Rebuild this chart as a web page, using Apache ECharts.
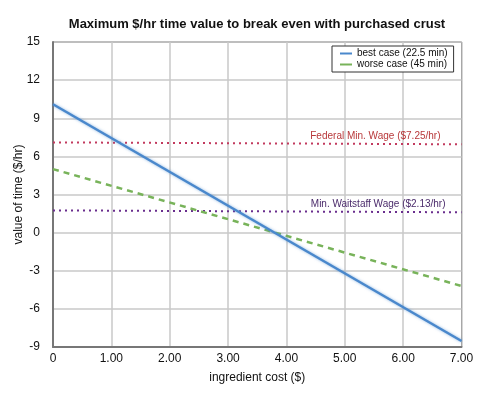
<!DOCTYPE html>
<html><head><meta charset="utf-8">
<script src="https://cdn.jsdelivr.net/npm/echarts@6/dist/echarts.min.js"></script>
<style>html,body{margin:0;padding:0;background:#fff}#c{width:500px;height:408px}</style>
</head><body><div id="c"></div>
<script>
const costs = [0, 7];
const bestCase = [10.1, -8.53];
const worseCase = [5.0, -4.2];
const fedWage = [7.1, 6.95];
const waitWage = [1.75, 1.6];
const xTickLabels = ['0', '1.00', '2.00', '3.00', '4.00', '5.00', '6.00', '7.00'];
const seriesNames = ['best case (22.5 min)', 'worse case (45 min)'];
const refNames = ['Federal Min. Wage ($7.25/hr)', 'Min. Waitstaff Wage ($2.13/hr)'];

const pairs = arr => costs.map((c, i) => [c, arr[i]]);
const FONT = 'Liberation Sans, Arial, Helvetica, sans-serif';
const chart = echarts.init(document.getElementById('c'));
function endLabel(name, color, dx) {
  return {
    show: true, position: 'top', align: 'right', distance: 3, offset: [dx, 0],
    color: color, fontSize: 10, fontFamily: FONT, opacity: 1,
    formatter: p => p.dataIndex === costs.length - 1 ? name : ''
  };
}
chart.setOption({
  animation: false,
  textStyle: { fontFamily: FONT },
  title: {
    text: 'Maximum $/hr time value to break even with purchased crust',
    left: 252, top: 13, textAlign: 'center',
    textStyle: { fontSize: 13, fontWeight: 'bold', color: '#111', fontFamily: FONT }
  },
  legend: {
    data: seriesNames, orient: 'vertical', left: 332, top: 46,
    backgroundColor: '#fff', borderColor: '#333', borderWidth: 1,
    padding: [2, 6, 2, 8], itemGap: 0, itemWidth: 12, itemHeight: 2, icon: 'rect',
    textStyle: { fontSize: 10, color: '#111', lineHeight: 11, fontFamily: FONT }
  },
  grid: { left: 53, right: 38.5, top: 42, bottom: 61, show: true, borderColor: '#444', borderWidth: 1, outerBoundsMode: 'none', containLabel: false },
  xAxis: {
    type: 'value', min: 0, max: 7, interval: 1,
    name: 'ingredient cost ($)', nameLocation: 'middle', nameGap: 25, nameMoveOverlap: false,
    nameTextStyle: { fontSize: 12, color: '#111', fontFamily: FONT },
    axisLine: { onZero: false, lineStyle: { color: '#777', width: 2 } },
    axisTick: { show: false },
    axisLabel: { margin: 6, fontSize: 12, color: '#111', fontFamily: FONT, formatter: v => xTickLabels[Math.round(v)] },
    splitLine: { lineStyle: { color: '#c8c8c8', width: 1.5 } }
  },
  yAxis: {
    type: 'value', min: -9, max: 15, interval: 3,
    name: 'value of time ($/hr)', nameLocation: 'middle', nameGap: 28, nameMoveOverlap: false,
    nameTextStyle: { fontSize: 12, color: '#111', fontFamily: FONT },
    axisLine: { show: true, lineStyle: { color: '#777', width: 2 } },
    axisTick: { show: false },
    axisLabel: { margin: 13, fontSize: 12, color: '#111', fontFamily: FONT },
    splitLine: { lineStyle: { color: '#c8c8c8', width: 1.5 } }
  },
  series: [
    {
      name: refNames[0], type: 'line', data: pairs(fedWage), z: 3,
      symbol: 'circle', symbolSize: 1, showSymbol: true, itemStyle: { color: 'rgba(0,0,0,0)' },
      lineStyle: { color: '#c23a5e', width: 2, type: [2, 4] },
      label: endLabel(refNames[0], '#b8383a', -21)
    },
    {
      name: refNames[1], type: 'line', data: pairs(waitWage), z: 3,
      symbol: 'circle', symbolSize: 1, showSymbol: true, itemStyle: { color: 'rgba(0,0,0,0)' },
      lineStyle: { color: '#6a2e8e', width: 2, type: [2, 4] },
      label: endLabel(refNames[1], '#4a2a6a', -16)
    },
    {
      name: seriesNames[1], type: 'line', data: pairs(worseCase), symbol: 'none', z: 4,
      color: '#78b35a',
      lineStyle: { color: '#78b35a', width: 2.5, type: [6, 5] }
    },
    {
      name: seriesNames[0], type: 'line', data: pairs(bestCase), symbol: 'none', z: 5,
      color: '#4a88cc',
      lineStyle: { color: '#4a88cc', width: 2.5, shadowColor: 'rgba(74,136,204,0.6)', shadowBlur: 3 }
    }
  ]
});
</script></body></html>
